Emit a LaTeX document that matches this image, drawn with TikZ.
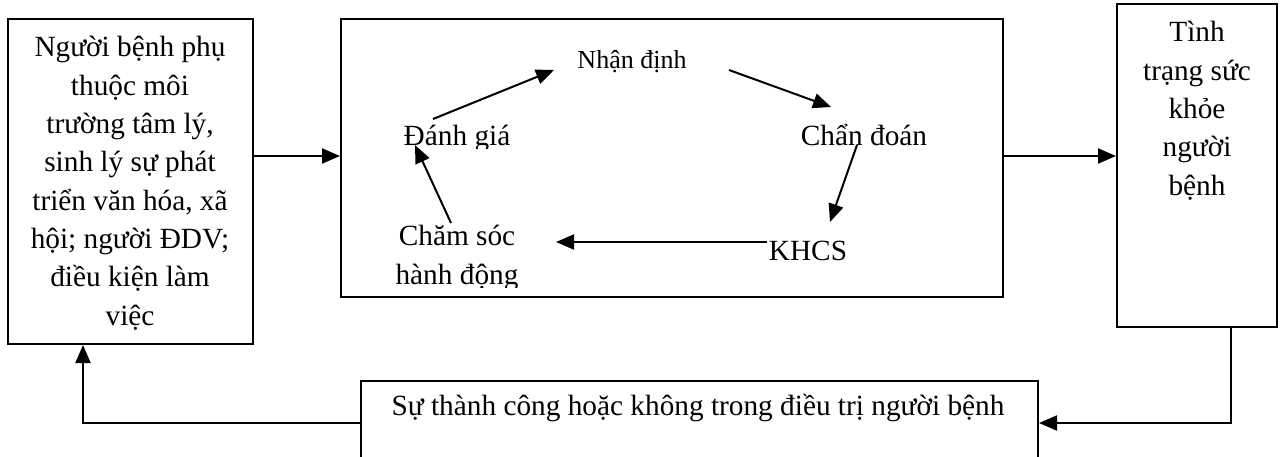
\documentclass[tikz,border=0pt]{standalone}
\usepackage{fontspec}
\setmainfont{Liberation Serif}
\usetikzlibrary{arrows.meta}
\begin{document}
\begin{tikzpicture}[x=1pt,y=-1pt,
  every node/.style={font=\fontsize{29.3}{38.3}\selectfont},
  frame/.style={draw, line width=2pt, rectangle, inner sep=0pt},
  txt/.style={inner sep=0pt, anchor=base, align=center},
  conn/.style={line width=2pt, -{Triangle[length=18pt,width=15pt]}}]
\useasboundingbox (0,0) rectangle (1281,456);
\clip (0,0) rectangle (1281,456);
% boxes
\node[frame, minimum width=245pt, minimum height=325pt] (left) at (130.5,181.5) {};
\node[frame, minimum width=662pt, minimum height=278pt] (mid) at (672,158) {};
\node[frame, minimum width=160pt, minimum height=323pt] (right) at (1197,165.5) {};
\node[frame, anchor=north, minimum width=677pt, minimum height=110pt] (bottom) at (699.5,380) {};
% box texts (base anchor = last line)
\node[txt] (lefttext) at (130,325) {Người bệnh phụ\\thuộc môi\\trường tâm lý,\\sinh lý sự phát\\triển văn hóa, xã\\hội; người ĐDV;\\điều kiện làm\\việc};
\node[txt] (righttext) at (1197,195) {Tình\\trạng sức\\khỏe\\người\\bệnh};
\node[txt] (bottomtext) at (698,415) {Sự thành công hoặc không trong điều trị người bệnh};
% cycle texts
\node[txt, font=\fontsize{26}{30}\selectfont] (nhan) at (632,68) {Nhận định};
\begin{scope}
  \clip (380,100) rectangle (540,148);
  \node[txt] (danh) at (457,145) {Đánh giá};
\end{scope}
\node[txt] (chan) at (864,145) {Chẩn đoán};
\node[txt] (khcs) at (808,260) {KHCS};
\node[txt] (cham) at (457,245) {Chăm sóc};
\begin{scope}
  \clip (380,255) rectangle (540,287);
  \node[txt] (hanh) at (457,284) {hành động};
\end{scope}
% cycle arrows
\draw[conn] ([shift={(-24,-26)}]danh.base) -- ([shift={(-78,2)}]nhan.base);
\draw[conn] ([shift={(97,2)}]nhan.base) -- ([shift={(-33,-38)}]chan.base);
\draw[conn] ([shift={(-7,0)}]chan.base) -- ([shift={(22,-38)}]khcs.base);
\draw[conn] ([shift={(-41,-18)}]khcs.base) -- ([shift={(99,-3)}]cham.base);
\draw[conn] ([shift={(-6,-22)}]cham.base) -- ([shift={(-42,0)}]danh.base);
% outer flow
\draw[conn] ([shift={(0,-25.5)}]left.east) -- ([shift={(0,-2)}]mid.west);
\draw[conn] ([shift={(0,-2)}]mid.east) -- ([shift={(0,-9.5)}]right.west);
\draw[conn] ([shift={(34,0)}]right.south) |- ([shift={(0,-13)}]bottom.east);
\draw[conn] ([shift={(0,-13)}]bottom.west) -| ([shift={(-47.5,0)}]left.south);
\end{tikzpicture}
\end{document}
